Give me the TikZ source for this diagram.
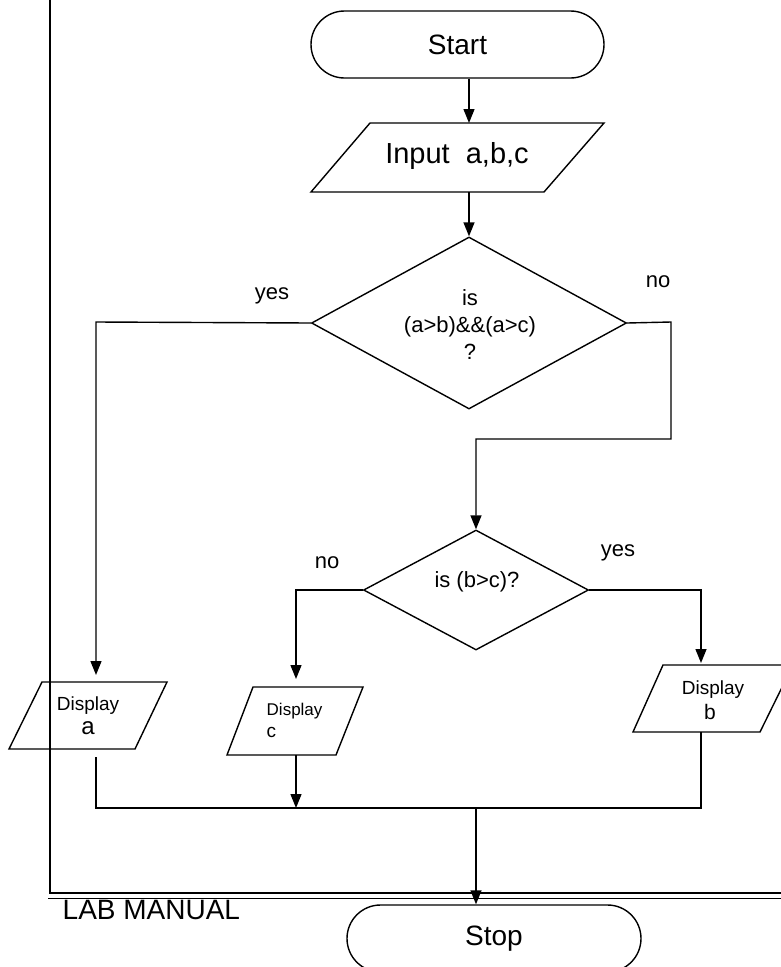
\documentclass[tikz,border=0pt]{standalone}
\usepackage{fontspec}
\setmainfont{Liberation Sans}
\usetikzlibrary{arrows.meta,shapes.misc,shapes.geometric}
\begin{document}
\begin{tikzpicture}[x=1pt,y=-1pt,
  line width=1.4pt,
  arr/.style={-{Triangle[length=14pt,width=11pt]}},
  term/.style={draw,rounded rectangle,minimum width=#1,minimum height=67pt,inner sep=0pt,font=\fontsize{28}{32}\selectfont},
  dec/.style={draw,diamond,inner sep=0pt},
  io/.style={line width=1.4pt},
  lbl/.style={inner sep=0pt,font=\fontsize{22}{26}\selectfont},
  txt/.style={inner sep=0pt,align=center}
]
\useasboundingbox (0,0) rectangle (781,967);
\clip (0,0) rectangle (781,967);

% frame
\draw[line width=2pt] (50,-5) -- (50,893) -- (790,893);
\draw[line width=1pt] (48,898) -- (790,898);
\node[txt,font=\fontsize{28}{32}\selectfont,anchor=west] (lab) at (62,910) {LAB MANUAL};

% terminals
\node[term=293pt] (start) at (457.5,44.5) {Start};
\node[term=294pt] (stop) at (494,938.5) {Stop};

% input
\draw[io] (370,123) -- (604,123) -- (544,192) -- (311,192) -- cycle;
\node[txt,font=\fontsize{29}{33}\selectfont] (inp) at (457,156) {Input\ \ a,b,c};
\coordinate (inTop) at (469,123);
\coordinate (inBot) at (469,192);

% decision 1
\node[dec,minimum width=315pt,minimum height=172pt] (d1) at (469,323) {};
\node[txt,font=\fontsize{22}{27}\selectfont] (d1t) at (470,325) {is\\(a>b)\&\&(a>c)\\?};

% decision 2
\node[dec,minimum width=225pt,minimum height=120pt] (d2) at (476,590) {};
\node[txt,font=\fontsize{22}{26}\selectfont] (d2t) at (477,582) {is (b>c)?};

% display a
\draw[io] (42,682) -- (167,682) -- (135,749) -- (9,749) -- cycle;
\node[txt,font=\fontsize{19}{22}\selectfont] (dat) at (88,706) {Display};
\node[txt,font=\fontsize{24}{26}\selectfont] (daa) at (88,728) {a};
\coordinate (daTop) at (96,675);
\coordinate (daBot) at (96,757);

% display c
\draw[io] (253,687) -- (363,687) -- (336,755) -- (227,755) -- cycle;
\node[txt,font=\fontsize{17}{20}\selectfont,anchor=west] (dct) at (266,711) {Display};
\node[txt,font=\fontsize{19}{22}\selectfont,anchor=west] (dcc) at (266,732) {c};
\coordinate (dcTop) at (296,679);
\coordinate (dcBot) at (296,755);

% display b
\draw[io] (663,665) -- (793,665) -- (760,732) -- (633,732) -- cycle;
\node[txt,font=\fontsize{19}{22}\selectfont] (dbt) at (713,690) {Display};
\node[txt,font=\fontsize{21}{24}\selectfont] (dbb) at (710,712) {b};
\coordinate (dbTop) at (701,663);
\coordinate (dbBot) at (701,732);

% labels
\node[lbl] (yes1) at (272,296) {yes};
\node[lbl] (no1) at (658,282) {no};
\node[lbl] (no2) at (327,563) {no};
\node[lbl] (yes2) at (618,553) {yes};

% connectors
\draw[arr] (start.south -| inTop) -- (inTop);
\draw[arr] (inBot) -- (d1.north);
\draw[arr] (d1.west) -- (96,322) -- (daTop);
\draw[arr] (d1.east) -- (671,322) -- (671,439) -- (476,439) -- (d2.north);
\draw[arr] (d2.west) -- (296,590) -- (dcTop);
\draw[arr] (d2.east) -- (701,590) -- (dbTop);
\coordinate (join) at (476,808);
\draw (daBot) -- (96,808) -- (701,808) -- (dbBot);
\draw[arr] (dcBot) -- (296,808);
\draw[arr] (join) -- (stop.north -| join);
\end{tikzpicture}
\end{document}
